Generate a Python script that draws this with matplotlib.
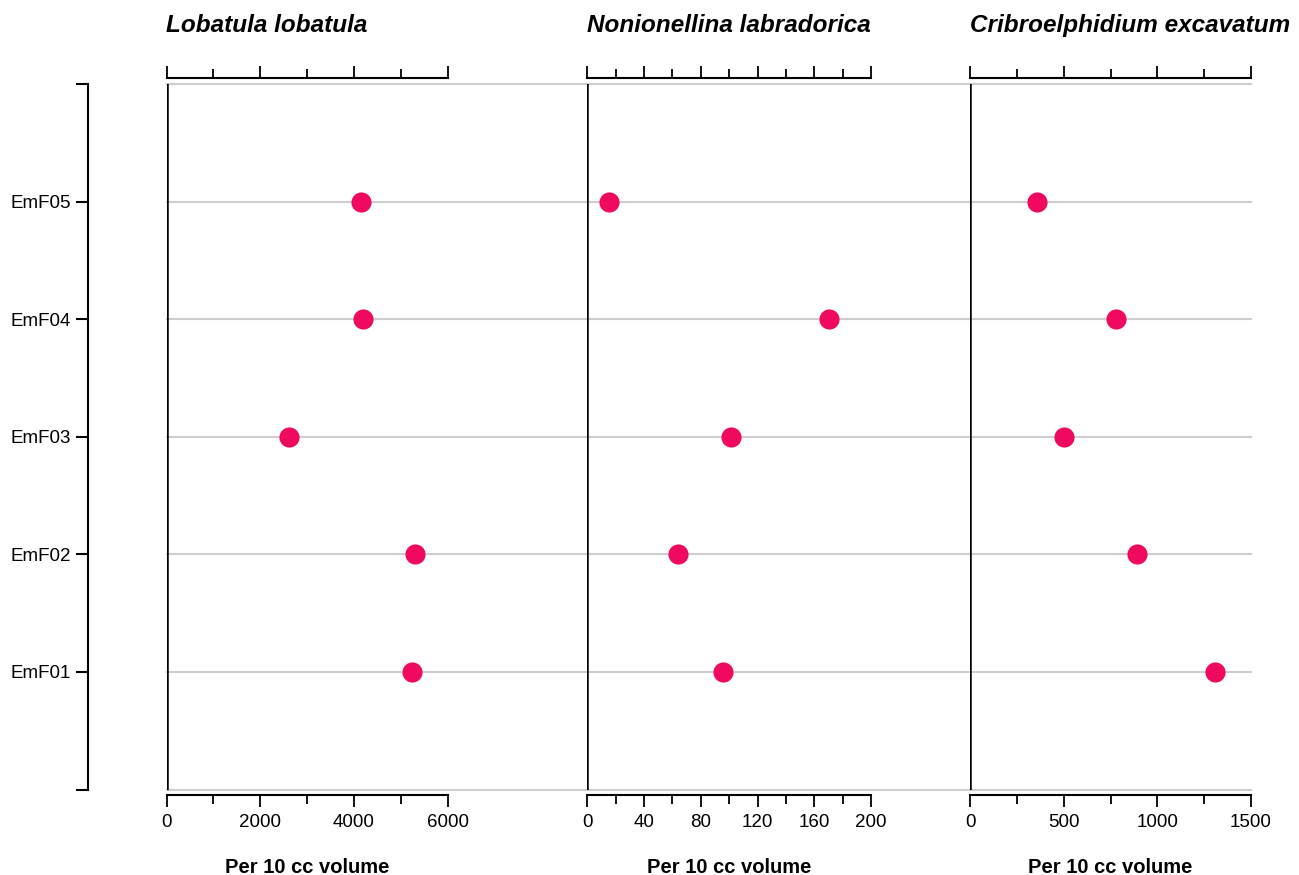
import numpy as np
import matplotlib.pyplot as plt
from matplotlib.ticker import FixedLocator

plt.rcParams['font.family'] = ['Liberation Sans', 'DejaVu Sans']

samples = ['EmF01', 'EmF02', 'EmF03', 'EmF04', 'EmF05']
species = ['Lobatula lobatula', 'Nonionellina labradorica', 'Cribroelphidium excavatum']

# abundance per 10 cc, listed EmF01 -> EmF05
lobatula = [5230, 5305, 2605, 4190, 4155]
nonionellina = [95.5, 64, 101, 170.5, 15.5]
cribroelphidium = [1305, 889, 501, 779, 359]

# axis ranges for the three panels: (tick max, major step, minor step)
axis_max = [6000, 200, 1500]
major_step = [2000, 40, 500]
minor_step = [1000, 20, 250]

W, H = 1299, 875
dot_color = '#ef0a5f'
grid_color = '#cdcdcd'

fig = plt.figure(figsize=(W / 100, H / 100), dpi=100)

# panel geometry in pixels: zero position, end of tick span, right edge of panel
zero_px = [166.5, 587.3, 970.3]
span_px = [447.8, 871.0, 1251.0]
right_px = [587.3, 970.3, 1251.0]
y_bot, y_top = 789.5, 84.0

ypos = np.arange(1, len(samples) + 1)
values = [lobatula, nonionellina, cribroelphidium]

axes = []
for i in range(3):
    left = zero_px[i] / W
    width = (right_px[i] - zero_px[i]) / W
    ax = fig.add_axes([left, 1 - y_bot / H, width, (y_bot - y_top) / H])
    xmax = axis_max[i] * (right_px[i] - zero_px[i]) / (span_px[i] - zero_px[i])
    ax.set_xlim(0, xmax)
    ax.set_ylim(0, 6)

    for y in range(0, 7):
        ax.axhline(y, color=grid_color, lw=1.5, zorder=1, clip_on=False)
    ax.axvline(0, color='black', lw=1.8, zorder=2)

    ax.plot(values[i], ypos, 'o', color=dot_color, markersize=14.5,
            markeredgewidth=0, zorder=3, clip_on=False)

    for s in ['left', 'right']:
        ax.spines[s].set_visible(False)
    ax.spines['top'].set_position(('outward', 4.3))
    ax.spines['bottom'].set_position(('outward', 4))
    for s in ['top', 'bottom']:
        ax.spines[s].set_bounds(0, axis_max[i])
        ax.spines[s].set_linewidth(1.5)

    majors = np.arange(0, axis_max[i] + 1, major_step[i])
    minors = [m for m in np.arange(0, axis_max[i] + 1, minor_step[i]) if m not in majors]
    ax.set_xticks(majors)
    ax.xaxis.set_minor_locator(FixedLocator(minors))
    ax.xaxis.set_ticks_position('both')
    ax.tick_params(axis='x', which='major', length=8.6, width=1.3,
                   labelsize=13.5, pad=5, top=True, labeltop=False)
    ax.tick_params(axis='x', which='minor', length=6.3, width=1.3, top=True)
    ax.set_yticks([])

    ax.set_xlabel('Per 10 cc volume', fontsize=14.5, fontweight='bold')
    ax.xaxis.set_label_coords(axis_max[i] / 2 / xmax, -(869 - y_bot) / (y_bot - y_top) - 0.005)
    ax.xaxis.label.set_va('baseline')

    fig.text(zero_px[i] / W, 1 - 32 / H, species[i], fontsize=17.5,
             fontweight='bold', fontstyle='italic', ha='left', va='baseline')
    axes.append(ax)

# sample axis as a bracket on the far left
ax1 = axes[0]
ax1.spines['left'].set_visible(True)
ax1.spines['left'].set_position(('outward', 56.3))
ax1.spines['left'].set_linewidth(1.5)
ax1.set_yticks(range(0, 7))
ax1.set_yticklabels([''] + samples + [''])
ax1.tick_params(axis='y', length=8.6, width=1.5, labelsize=13.5, pad=4)

fig.savefig('out.png', dpi=100)
